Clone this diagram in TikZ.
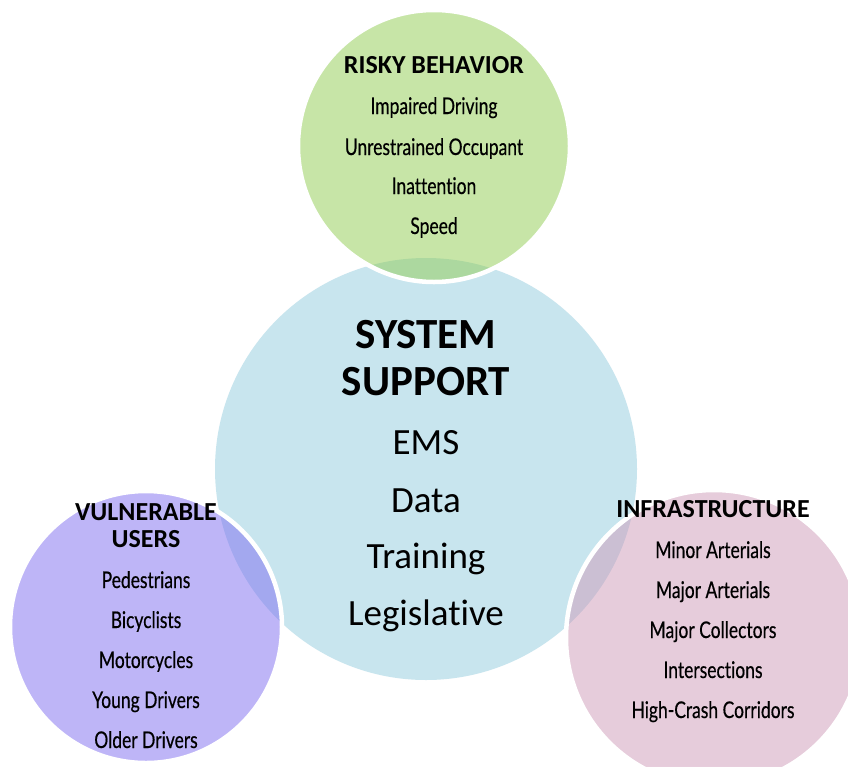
\documentclass[tikz,border=0pt]{standalone}
\usepackage{fontspec}
\setmainfont{Carlito}[Ligatures=NoCommon]
\newfontfamily\condfont{Lato}[FakeStretch=0.76, FakeBold=0.4, Ligatures=NoCommon]
\definecolor{sysblue}{HTML}{C8E5EE}
\definecolor{riskgreen}{RGB}{145,205,81}
\definecolor{vulnpurple}{RGB}{127,109,241}
\definecolor{infrapink}{RGB}{207,155,185}
\begin{document}
\begin{tikzpicture}[x=1pt,y=-1pt,
  bubble/.style={draw=white, line width=4.5pt, fill opacity=0.5, draw opacity=1},
  headtxt/.style={anchor=base, inner sep=0pt, font=\bfseries\fontsize{26}{26}\selectfont},
  itemtxt/.style={anchor=base, inner sep=0pt, font=\condfont\fontsize{23}{23}\selectfont},
  bigtitle/.style={anchor=base, inner sep=0pt, font=\bfseries\fontsize{43}{43}\selectfont},
  bigitem/.style={anchor=base, inner sep=0pt, font=\fontsize{37}{37}\selectfont}]
\useasboundingbox (0,0) rectangle (848,766);
\fill[white] (0,0) rectangle (848,766);
% circles
\fill[sysblue] (426,469) circle[radius=211pt];
\filldraw[bubble, fill=riskgreen] (434,146) circle[radius=136pt];
\filldraw[bubble, fill=vulnpurple] (146,627) circle[radius=136pt];
\filldraw[bubble, fill=infrapink] (714,638) circle[radius=148pt];
% risky behavior
\node[headtxt] (rh) at (434,73) {RISKY BEHAVIOR};
\node[itemtxt] (r1) at (434,114) {Impaired Driving};
\node[itemtxt] (r2) at (434,155) {Unrestrained Occupant};
\node[itemtxt] (r3) at (434,194) {Inattention};
\node[itemtxt] (r4) at (434,234) {Speed};
% system support
\node[bigtitle] (s1) at (426,348) {SYSTEM};
\node[bigtitle] (s2) at (426,395) {SUPPORT};
\node[bigitem] (s3) at (426,454) {EMS};
\node[bigitem] (s4) at (426,512) {Data};
\node[bigitem] (s5) at (426,568) {Training};
\node[bigitem] (s6) at (426,625) {Legislative};
% vulnerable users
\node[headtxt] (vh1) at (146,520) {VULNERABLE};
\node[headtxt] (vh2) at (146,547) {USERS};
\node[itemtxt] (v1) at (146,588) {Pedestrians};
\node[itemtxt] (v2) at (146,628) {Bicyclists};
\node[itemtxt] (v3) at (146,668) {Motorcycles};
\node[itemtxt] (v4) at (146,708) {Young Drivers};
\node[itemtxt] (v5) at (146,748) {Older Drivers};
% infrastructure
\node[headtxt] (ih) at (713,517) {INFRASTRUCTURE};
\node[itemtxt] (i1) at (713,558) {Minor Arterials};
\node[itemtxt] (i2) at (713,598) {Major Arterials};
\node[itemtxt] (i3) at (713,638) {Major Collectors};
\node[itemtxt] (i4) at (713,678) {Intersections};
\node[itemtxt] (i5) at (713,718) {High-Crash Corridors};
\end{tikzpicture}
\end{document}
